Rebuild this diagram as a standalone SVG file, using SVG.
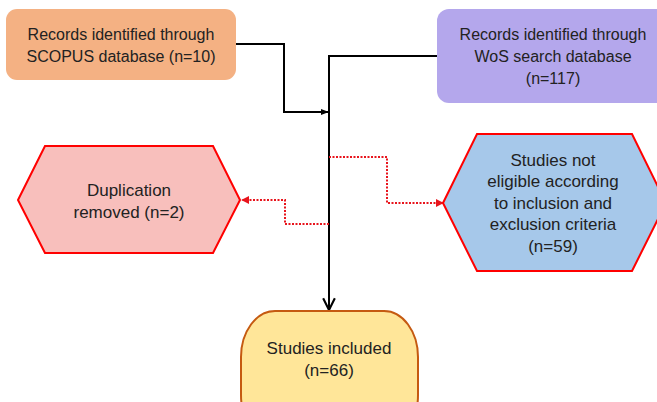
<svg xmlns="http://www.w3.org/2000/svg" width="657" height="402" viewBox="0 0 657 402">
<defs>
<style>
.t{font-family:"Liberation Sans",Arial,sans-serif;font-size:16px;fill:#222;text-anchor:middle}
.t2{font-family:"Liberation Sans",Arial,sans-serif;font-size:17px;fill:#222;text-anchor:middle}
.blk{fill:none;stroke:#000;stroke-width:2}
.red{fill:none;stroke:#e8141c;stroke-width:2;stroke-dasharray:2 1.5}
.hex{stroke:#ff0000;stroke-width:2}
</style>
<marker id="ab" viewBox="0 0 10 10" refX="9" refY="5" markerWidth="8" markerHeight="8" orient="auto" markerUnits="userSpaceOnUse"><path d="M0,1 L10,5 L0,9 z" fill="#000"/></marker>
<marker id="ar" viewBox="0 0 10 10" refX="9" refY="5" markerWidth="8" markerHeight="8" orient="auto" markerUnits="userSpaceOnUse"><path d="M0,0 L10,5 L0,10 z" fill="#e8141c"/></marker>
<marker id="av" viewBox="0 0 12 12" refX="11" refY="6" markerWidth="14" markerHeight="14" orient="auto" markerUnits="userSpaceOnUse"><path d="M1,1 L11,6 L1,11" fill="none" stroke="#000" stroke-width="1.8"/></marker>
</defs>
<g id="connectors">
<path class="blk" d="M236,44 H284 V112 H328" marker-end="url(#ab)"/>
<path class="blk" d="M437,56 H329 V310" marker-end="url(#av)"/>
<path class="red" d="M329,224 H285 V200 H242" marker-end="url(#ar)"/>
<path class="red" d="M329,157 H387 V203 H443" marker-end="url(#ar)"/>
</g>
<g id="scopus">
<rect x="6" y="9" width="230" height="71" rx="11" fill="#f4b183"/>
<text class="t" x="121" y="40">Records identified through</text>
<text class="t" x="121" y="62">SCOPUS database (n=10)</text>
</g>
<g id="wos">
<rect x="437" y="9" width="235" height="94" rx="12" fill="#b4a7ec"/>
<text class="t" x="553" y="40">Records identified through</text>
<text class="t" x="553" y="62">WoS search database</text>
<text class="t" x="553" y="84">(n=117)</text>
</g>
<g id="duplication">
<polygon class="hex" points="18,200 45,146 213,146 240,200 213,253 45,253" fill="#f8bfbc"/>
<text class="t2" x="129" y="196">Duplication</text>
<text class="t2" x="129" y="218">removed (n=2)</text>
</g>
<g id="not-eligible">
<polygon class="hex" points="443,203 477,134 632,134 666,203 632,271 477,271" fill="#a6c8ea"/>
<text class="t2" x="553" y="166">Studies not</text>
<text class="t2" x="553" y="187">eligible according</text>
<text class="t2" x="553" y="209">to inclusion and</text>
<text class="t2" x="553" y="230">exclusion criteria</text>
<text class="t2" x="553" y="252">(n=59)</text>
</g>
<g id="included">
<rect x="241" y="311" width="177" height="130" rx="34" ry="46" fill="#ffe699" stroke="#c55a11" stroke-width="2"/>
<text class="t2" x="329" y="354">Studies included</text>
<text class="t2" x="329" y="376">(n=66)</text>
</g>
</svg>
